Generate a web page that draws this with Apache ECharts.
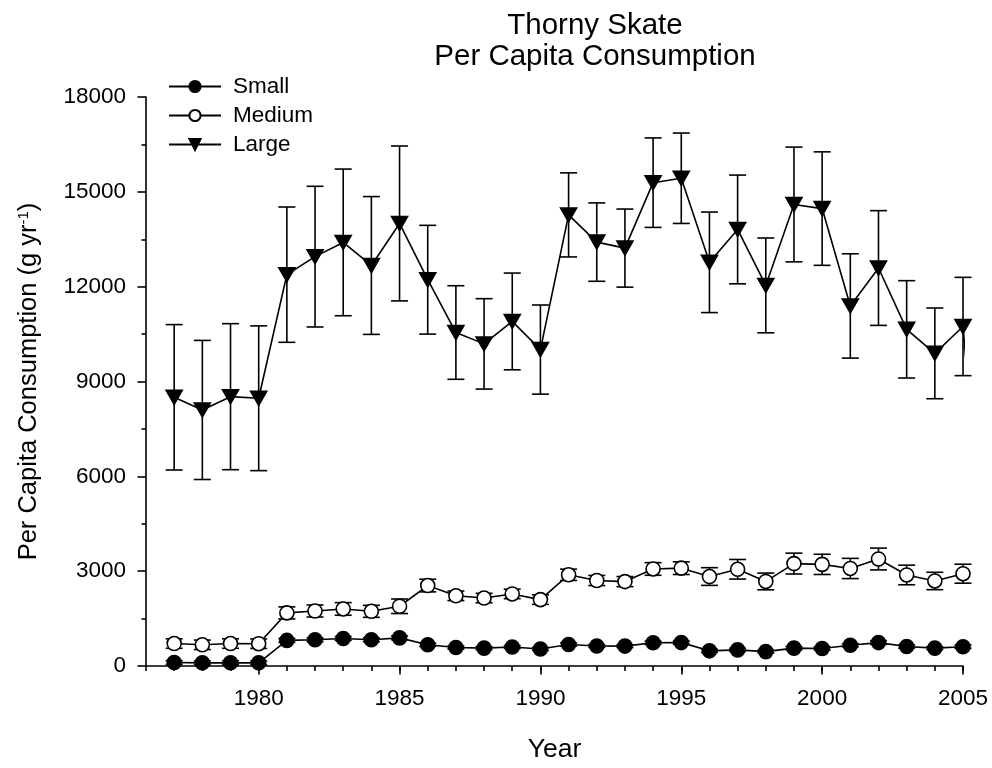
<!DOCTYPE html>
<html>
<head>
<meta charset="utf-8">
<script src="https://cdn.jsdelivr.net/npm/echarts@6/dist/echarts.min.js"></script>
<style>html,body{margin:0;padding:0;background:#fff}#c{width:992px;height:768px}</style>
</head>
<body>
<div id="c"></div>
<script>
const years = [1977,1978,1979,1980,1981,1982,1983,1984,1985,1986,1987,1988,1989,1990,1991,1992,1993,1994,1995,1996,1997,1998,1999,2000,2001,2002,2003,2004,2005];
const small = [110,100,105,100,810,830,870,830,890,670,585,565,600,540,680,635,630,735,740,480,510,455,565,555,655,740,615,565,610];
const smallErr = [60,60,60,60,60,60,60,60,60,50,45,45,45,45,50,45,45,50,50,50,50,45,50,50,50,55,50,45,50];
const medium = [710,670,710,705,1680,1740,1805,1730,1890,2545,2220,2150,2280,2100,2885,2705,2670,3070,3095,2830,3060,2675,3240,3215,3085,3385,2880,2690,2920];
const mediumErr = [150,150,150,150,190,190,200,190,230,200,150,150,150,150,180,160,160,200,200,280,310,265,330,320,320,345,310,275,300];
const large = [8500,8100,8520,8470,12380,12950,13400,12670,14000,12220,10550,10190,10900,10010,14270,13410,13220,15290,15430,12770,13810,12040,14600,14470,11390,12590,10650,9890,10740];
const largeErr = [2300,2200,2310,2290,2140,2225,2320,2180,2450,1720,1480,1430,1530,1410,1330,1240,1235,1415,1430,1590,1720,1500,1815,1795,1650,1815,1540,1435,1555];
// stray trailing segment of the Large curve visible after the 2005 point
const largeTailX = [2005, 2005.1];
const largeTailY = [10740, 9700];
const majorYears = [1980,1985,1990,1995,2000,2005];
const yTicks = [0,3000,6000,9000,12000,15000,18000];
const seriesNames = ['Small','Medium','Large'];

const FONT = 'Liberation Sans, Arial, sans-serif';
const triDown = 'path://M0,0 L16,0 L8,14 Z';

function pts(vals){ return years.map((y,i)=>[y, vals[i]]); }
function errPts(vals, errs){ return years.map((y,i)=>[y, vals[i]-errs[i], vals[i]+errs[i]]); }
function errSeries(vals, errs){
  return {
    type:'custom', silent:true, z:2, xAxisIndex:0, yAxisIndex:0,
    data: errPts(vals, errs),
    encode:{x:0, y:[1,2]},
    renderItem:function(params, api){
      const x = api.value(0), lo = api.value(1), hi = api.value(2);
      const a = api.coord([x, hi]), b = api.coord([x, lo]);
      const w = 8.5;
      const st = {stroke:'#000', lineWidth:1.6};
      return {type:'group', children:[
        {type:'line', shape:{x1:a[0],y1:a[1],x2:b[0],y2:b[1]}, style:st},
        {type:'line', shape:{x1:a[0]-w,y1:a[1],x2:a[0]+w,y2:a[1]}, style:st},
        {type:'line', shape:{x1:b[0]-w,y1:b[1],x2:b[0]+w,y2:b[1]}, style:st}
      ]};
    }
  };
}
function lineSeries(name, vals, symbol, size, fill){
  return {
    type:'line', name:name, z:3, xAxisIndex:0, yAxisIndex:0,
    data: pts(vals), symbol:symbol, symbolSize:size, showAllSymbol:true,
    lineStyle:{color:'#000', width:1.6},
    itemStyle:{color:fill, borderColor:'#000', borderWidth:1.6, opacity:1},
    emphasis:{disabled:true}, animation:false, clip:false
  };
}
const plain = v => String(v);

const chart = echarts.init(document.getElementById('c'), null, {renderer:'canvas'});
chart.setOption({
  animation:false,
  backgroundColor:'#fff',
  textStyle:{fontFamily:FONT, color:'#000'},
  title:{
    text:'Thorny Skate\nPer Capita Consumption',
    left:590, top:5, textAlign:'center',
    textStyle:{fontFamily:FONT, fontSize:29.5, fontWeight:'normal', color:'#000', lineHeight:31}
  },
  legend:{
    data:seriesNames, orient:'vertical', left:163, top:70,
    itemWidth:52, itemHeight:14, itemGap:6,
    textStyle:{fontFamily:FONT, fontSize:22.5, color:'#000', padding:[0,0,0,7]},
    selectedMode:false
  },
  grid:{left:146, right:29, top:97, bottom:96, containLabel:false},
  xAxis:[{
    type:'value', min:1976, max:2005, interval:1, position:'bottom',
    name:'Year', nameLocation:'middle', nameGap:70,
    nameTextStyle:{fontFamily:FONT, fontSize:26.5, color:'#000'},
    axisLine:{show:true, onZero:false, lineStyle:{color:'#000', width:1.6}},
    axisTick:{show:true, inside:false, length:5, lineStyle:{color:'#000', width:1.6}},
    axisLabel:{show:false},
    splitLine:{show:false}
  },{
    type:'value', min:1976, max:2005, position:'bottom', offset:0,
    axisLine:{show:false, onZero:false},
    axisTick:{show:true, length:8.5, customValues:majorYears, lineStyle:{color:'#000', width:1.6}},
    axisLabel:{show:true, customValues:majorYears, formatter:plain, margin:21, fontFamily:FONT, fontSize:22.5, color:'#000'},
    splitLine:{show:false}
  }],
  yAxis:{
    type:'value', min:0, max:18000, interval:3000,
    name:'Per Capita Consumption (g yr{sup|-1})', nameLocation:'middle', nameGap:104,
    nameTextStyle:{fontFamily:FONT, fontSize:25.5, color:'#000', rich:{sup:{fontFamily:FONT, fontSize:15, color:'#000', verticalAlign:'top'}}},
    axisLine:{show:true, lineStyle:{color:'#000', width:1.6}},
    axisTick:{show:true, length:8.5, lineStyle:{color:'#000', width:1.6}},
    minorTick:{show:true, splitNumber:2, length:4.5, lineStyle:{color:'#000', width:1.6}},
    axisLabel:{margin:20, formatter:plain, fontFamily:FONT, fontSize:22.5, color:'#000', customValues:yTicks},
    splitLine:{show:false}
  },
  series:[
    errSeries(small, smallErr),
    errSeries(medium, mediumErr),
    errSeries(large, largeErr),
    {type:'line', z:2, silent:true, symbol:'none', clip:false, animation:false,
     data: largeTailX.map((x,i)=>[x, largeTailY[i]]),
     lineStyle:{color:'#000', width:1.6}},
    lineSeries('Small', small, 'circle', 14, '#000'),
    lineSeries('Medium', medium, 'circle', 14, '#fff'),
    lineSeries('Large', large, triDown, [16,14], '#000')
  ]
});
</script>
</body>
</html>
